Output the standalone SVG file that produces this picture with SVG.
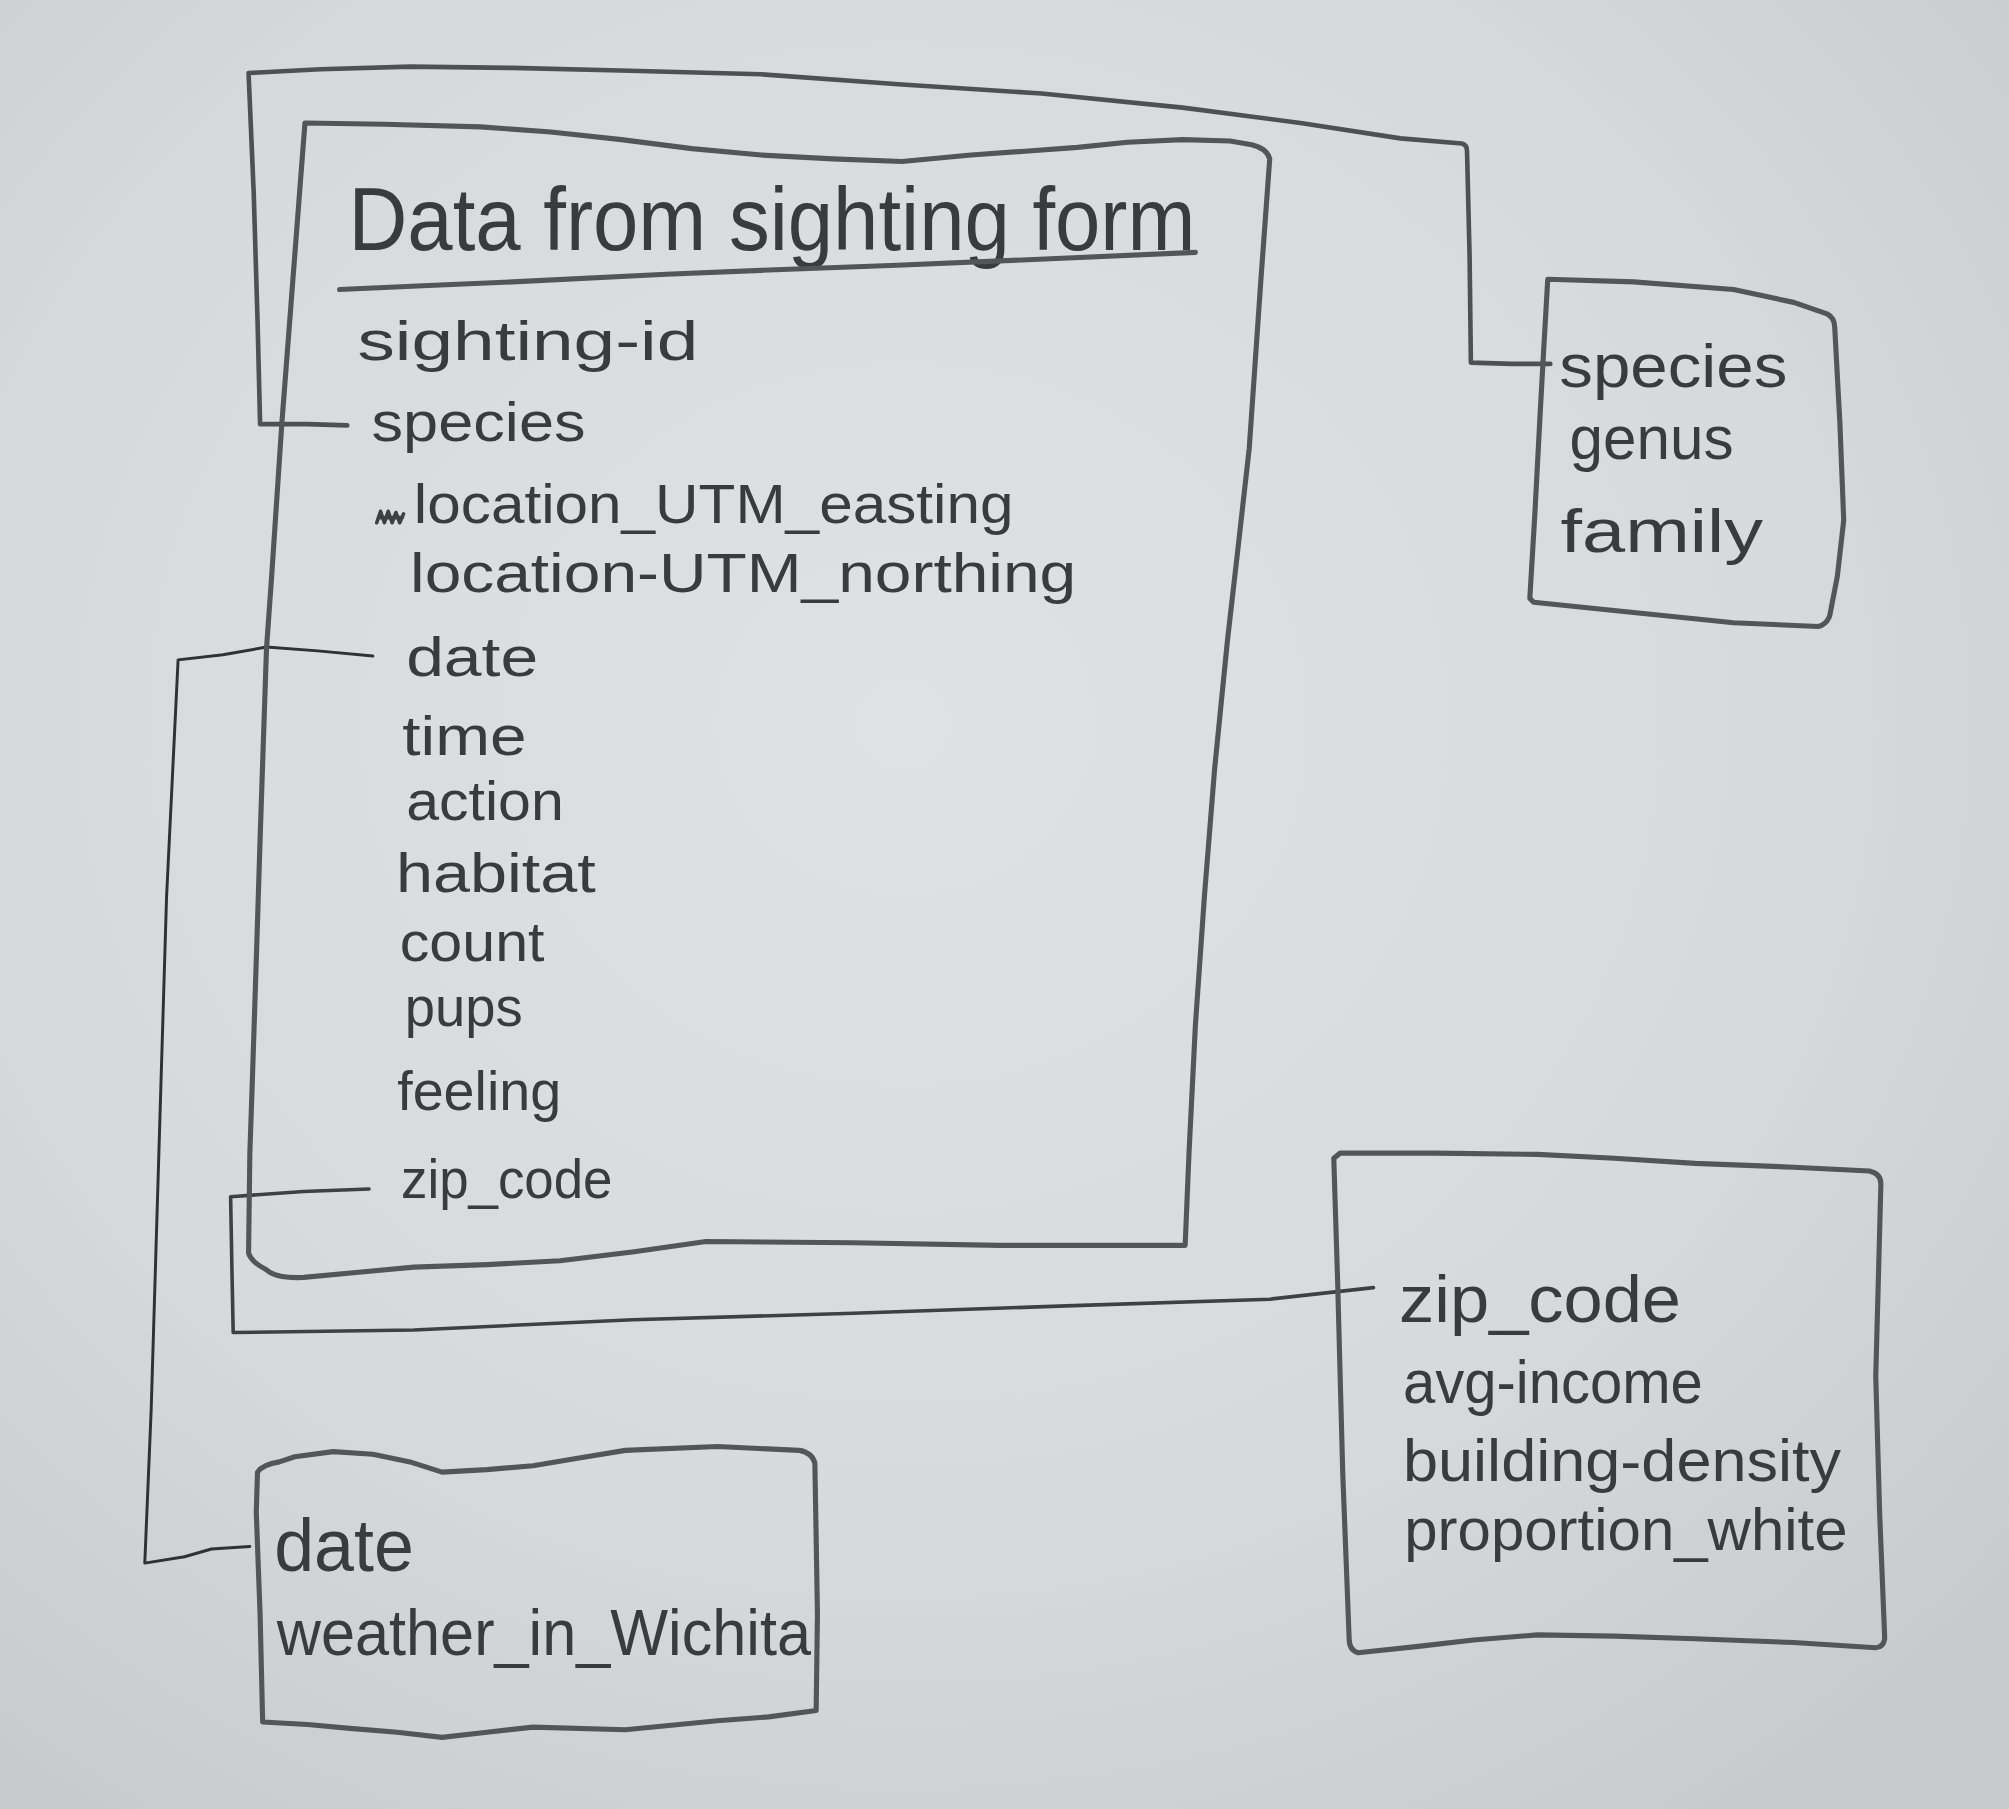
<svg xmlns="http://www.w3.org/2000/svg" width="2009" height="1809" viewBox="0 0 2009 1809">
<defs>
<radialGradient id="paper" cx="45%" cy="40%" r="75%">
<stop offset="0" stop-color="#e0e1e2"/>
<stop offset="0.6" stop-color="#d8d9da"/>
<stop offset="1" stop-color="#c8c9ca"/>
</radialGradient>
<style>
.box{fill:none;stroke:#535658;stroke-width:4;stroke-linejoin:round;stroke-linecap:round}
.conn{fill:none;stroke:#4e5153;stroke-width:3.6;stroke-linejoin:round;stroke-linecap:round}
.conn-dark{fill:none;stroke:#2f3133;stroke-width:2.3;stroke-linejoin:round;stroke-linecap:round}
.conn-mid{fill:none;stroke:#3e4143;stroke-width:2.8;stroke-linejoin:round;stroke-linecap:round}
.t{font-family:"Liberation Sans","Arial","DejaVu Sans",sans-serif;fill:#393c3e}
.f{font-size:43px}
.g{font-size:48px}
.title{font-size:70px}
</style>
</defs>
<rect x="0" y="0" width="2009" height="1809" fill="url(#paper)"/>
<g transform="scale(1.28125)">
<g id="connectors">
<path id="conn-species" class="conn" d="M271,332 L240,331 L203,331 L201,250 L198,150 L194,57 L250,54 L320,52 L400,53 L484,55 L594,58 L704,66 L813,73 L923,84 L1015,96 L1093,108 L1141,112 Q1145,113 1145,118 L1147,200 L1148,283 L1180,284 L1210,284"/>
<path id="conn-date" class="conn-dark" d="M291,512 L248,508 L208,505 L174,511 L139,515 L130,700 L124,900 L118,1100 L113,1220 L144,1215 L165,1209 L195,1207"/>
<path id="conn-zip" class="conn-mid" d="M288,928 L237,930 L180,934 L181,990 L182,1040 L323,1038 L494,1030 L666,1025 L838,1019 L991,1014 L1072,1005"/>
</g>
<g id="node-main">
<path class="box" d="M238,96 L300,97 L375,99 L430,103 L485,109 L540,116 L594,121 L650,124 L704,126 L758,121 L800,118 L841,115 L880,111 L923,109 L960,110 L977,113 Q989,116 991,124 L984,220 L975,350 L966,430 L958,500 L948,600 L940,700 L933,800 L928,900 L925,972 L850,972 L780,972 L666,970 L551,969 L495,977 L437,984 L380,987 L323,989 L280,993 L237,997 Q215,998 208,991 Q196,985 194,978 L195,900 L197,842 L200,750 L203,655 L208,506 L212,450 L220,330 L230,200 Z"/>
<text class="t title" x="272" y="195" textLength="661" lengthAdjust="spacingAndGlyphs">Data from sighting form</text>
<path class="box" stroke-width="4.2" d="M265,226 L330,223 L400,220 L520,214 L594,211 L700,207 L820,202 L933,197"/>
<text class="t f" x="279" y="281" textLength="266" lengthAdjust="spacingAndGlyphs">sighting-id</text>
<text class="t f" x="290" y="344" textLength="167" lengthAdjust="spacingAndGlyphs">species</text>
<path class="conn-mid" stroke-width="2.4" d="M294,408 L297,399 L300,408 L303,399 L306,408 L309,400 L312,408 L315,401 M296,404 L314,404"/>
<text class="t f" x="323" y="408" textLength="468" lengthAdjust="spacingAndGlyphs">location_UTM_easting</text>
<text class="t f" x="320" y="462" textLength="520" lengthAdjust="spacingAndGlyphs">location-UTM_northing</text>
<text class="t f" x="317" y="528" textLength="103" lengthAdjust="spacingAndGlyphs">date</text>
<text class="t f" x="314" y="589" textLength="97" lengthAdjust="spacingAndGlyphs">time</text>
<text class="t f" x="317" y="640" textLength="123" lengthAdjust="spacingAndGlyphs">action</text>
<text class="t f" x="309" y="696" textLength="156" lengthAdjust="spacingAndGlyphs">habitat</text>
<text class="t f" x="312" y="750" textLength="113" lengthAdjust="spacingAndGlyphs">count</text>
<text class="t f" x="316" y="801" textLength="92" lengthAdjust="spacingAndGlyphs">pups</text>
<text class="t f" x="310" y="866" textLength="128" lengthAdjust="spacingAndGlyphs">feeling</text>
<text class="t f" x="313" y="935" textLength="165" lengthAdjust="spacingAndGlyphs">zip_code</text>
</g>
<g id="node-species">
<path class="box" d="M1208,218 L1275,220 L1353,226 L1400,236 L1426,245 Q1432,248 1432,256 L1436,330 L1439,406 L1434,450 L1428,481 Q1425,488 1419,489 L1353,486 L1275,478 L1197,470 L1194,467 L1198,400 L1202,324 L1205,270 Z"/>
<text class="t g" x="1217" y="302" textLength="178" lengthAdjust="spacingAndGlyphs">species</text>
<text class="t g" x="1225" y="358" textLength="128" lengthAdjust="spacingAndGlyphs">genus</text>
<text class="t g" x="1218" y="431" textLength="158" lengthAdjust="spacingAndGlyphs">family</text>
</g>
<g id="node-date">
<path class="box" d="M201,1149 Q205,1143 218,1141 L230,1137 L260,1133 L291,1135 L320,1141 L345,1149 L380,1147 L416,1144 L452,1138 L488,1132 L560,1129 L624,1132 Q634,1134 636,1142 L637,1200 L638,1260 L637,1335 L600,1340 L560,1343 L488,1350 L416,1348 L380,1352 L345,1356 L310,1352 L273,1349 L240,1346 L205,1344 L203,1260 L200,1180 Z"/>
<text class="t" font-size="58" x="214" y="1226" textLength="109" lengthAdjust="spacingAndGlyphs">date</text>
<text class="t" font-size="50" x="216" y="1292" textLength="417" lengthAdjust="spacingAndGlyphs">weather_in_Wichita</text>
</g>
<g id="node-zip">
<path class="box" d="M1041,904 L1046,900 L1120,900 L1200,901 L1260,904 L1323,908 L1400,911 L1459,914 Q1468,916 1468,924 L1466,1000 L1464,1074 L1467,1180 L1471,1279 Q1470,1286 1464,1286 L1400,1282 L1323,1279 L1260,1277 L1200,1276 L1150,1280 L1107,1285 L1060,1290 Q1053,1288 1053,1279 L1048,1150 L1044,1000 Z"/>
<text class="t" font-size="52" x="1092" y="1032" textLength="220" lengthAdjust="spacingAndGlyphs">zip_code</text>
<text class="t" font-size="48" x="1095" y="1095" textLength="234" lengthAdjust="spacingAndGlyphs">avg-income</text>
<text class="t" font-size="46" x="1095" y="1156" textLength="342" lengthAdjust="spacingAndGlyphs">building-density</text>
<text class="t" font-size="46" x="1096" y="1210" textLength="346" lengthAdjust="spacingAndGlyphs">proportion_white</text>
</g>
</g>
</svg>
